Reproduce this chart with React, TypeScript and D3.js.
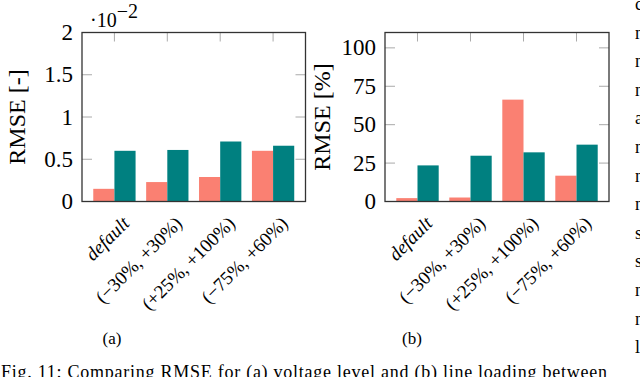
import React, { useRef, useEffect } from 'react';
import * as d3 from 'd3';

// scenario labels on the x axis
const categories = ['default', '(−30%, +30%)', '(+25%, +100%)', '(−75%, +60%)'];

// (a) voltage level RMSE, in units of 10^-2
const voltageSalmon = [0.15, 0.23, 0.29, 0.6];
const voltageTeal = [0.6, 0.61, 0.71, 0.66];
const voltageTicks = [0, 0.5, 1, 1.5, 2];
const voltageTickLabels = ['0', '0.5', '1', '1.5', '2'];

// (b) line loading RMSE in %
const loadingSalmon = [2.2, 2.6, 66.3, 16.8];
const loadingTeal = [23.5, 29.8, 32, 37];
const loadingTicks = [0, 25, 50, 75, 100];
const loadingTickLabels = ['0', '25', '50', '75', '100'];

// clipped text from the neighbouring column
const sideLetters = ['c', 'n', 'n', 'n', 'a', 'n', 'n', 'n', 's', 's', 'n', 'n', 'l'];

const FONT = '"Liberation Serif", "Times New Roman", serif';
const SALMON = '#fa8072';
const TEAL = '#008080';

type Panel = {
  left: number;
  right: number;
  yMax: number;
  salmon: number[];
  teal: number[];
  ticks: number[];
  tickLabels: string[];
  yLabel: string;
  yLabelX: number;
  sub: string;
  subX: number;
  exponent: boolean;
};

export default function App() {
  const ref = useRef<SVGSVGElement>(null);

  useEffect(() => {
    const svg = d3.select(ref.current);
    svg.selectAll('*').remove();

    const top = 32.5, bottom = 201.5;

    const panels: Panel[] = [
      { left: 82, right: 305.5, yMax: 2, salmon: voltageSalmon, teal: voltageTeal,
        ticks: voltageTicks, tickLabels: voltageTickLabels, yLabel: 'RMSE [-]', yLabelX: 17,
        sub: '(a)', subX: 112, exponent: true },
      { left: 385, right: 609, yMax: 110, salmon: loadingSalmon, teal: loadingTeal,
        ticks: loadingTicks, tickLabels: loadingTickLabels, yLabel: 'RMSE [%]', yLabelX: 322,
        sub: '(b)', subX: 412, exponent: false },
    ];

    panels.forEach(p => {
      const g = svg.append('g');
      const x = d3.scalePoint<string>()
        .domain(categories)
        .range([p.left, p.right])
        .padding(0.613);
      const y = d3.scaleLinear().domain([0, p.yMax]).range([bottom, top]);
      const bw = x.step() * 0.4;

      // bars
      g.selectAll('.s')
        .data(p.salmon)
        .enter()
        .append('rect')
        .attr('x', (d, i) => (x(categories[i]) as number) - bw)
        .attr('y', d => y(d))
        .attr('width', bw)
        .attr('height', d => bottom - y(d))
        .attr('fill', SALMON);

      g.selectAll('.t')
        .data(p.teal)
        .enter()
        .append('rect')
        .attr('x', (d, i) => x(categories[i]) as number)
        .attr('y', d => y(d))
        .attr('width', bw)
        .attr('height', d => bottom - y(d))
        .attr('fill', TEAL);

      // inner ticks
      p.ticks.forEach(t => {
        g.append('line').attr('x1', p.left).attr('x2', p.left + 10)
          .attr('y1', y(t)).attr('y2', y(t)).attr('stroke', '#aaa').attr('stroke-width', 1);
        g.append('line').attr('x1', p.right - 10).attr('x2', p.right)
          .attr('y1', y(t)).attr('y2', y(t)).attr('stroke', '#aaa').attr('stroke-width', 1);
      });
      categories.forEach(c => {
        g.append('line').attr('x1', x(c) as number).attr('x2', x(c) as number)
          .attr('y1', top).attr('y2', top + 9).attr('stroke', '#aaa').attr('stroke-width', 1);
      });

      // frame
      g.append('rect')
        .attr('x', p.left).attr('y', top)
        .attr('width', p.right - p.left).attr('height', bottom - top)
        .attr('fill', 'none').attr('stroke', '#333').attr('stroke-width', 1.3);

      // y tick labels
      p.ticks.forEach((t, i) => {
        g.append('text')
          .attr('x', p.left - 9)
          .attr('y', y(t) + 7.5)
          .attr('text-anchor', 'end')
          .style('font-family', FONT)
          .style('font-size', '23px')
          .text(p.tickLabels[i]);
      });

      // x tick labels, rotated
      categories.forEach((c, i) => {
        g.append('text')
          .attr('transform', `translate(${(x(c) as number) + 16},${bottom + 23}) rotate(-45)`)
          .attr('text-anchor', 'end')
          .style('font-family', FONT)
          .style('font-size', '19px')
          .style('font-style', i === 0 ? 'italic' : 'normal')
          .text(c);
      });

      // y axis label
      g.append('text')
        .attr('transform', `translate(${p.yLabelX + 8},${(top + bottom) / 2}) rotate(-90)`)
        .attr('text-anchor', 'middle')
        .style('font-family', FONT)
        .style('font-size', '24px')
        .text(p.yLabel);

      if (p.exponent) {
        const e = g.append('text')
          .attr('x', p.left + 8)
          .attr('y', 27)
          .style('font-family', FONT)
          .style('font-size', '20px');
        e.append('tspan').text('·10');
        e.append('tspan').attr('dy', -9).text('−2');
      }

      // sub caption
      svg.append('text')
        .attr('x', p.subX)
        .attr('y', 344)
        .attr('text-anchor', 'middle')
        .style('font-family', FONT)
        .style('font-size', '17px')
        .text(p.sub);
    });

    svg.append('text')
      .attr('x', 1)
      .attr('y', 378)
      .attr('textLength', 606)
      .style('font-family', FONT)
      .style('font-size', '18px')
      .text('Fig. 11: Comparing RMSE for (a) voltage level and (b) line loading between');

    sideLetters.forEach((l, i) => {
      svg.append('text')
        .attr('x', 635)
        .attr('y', 10 + i * 28.6)
        .style('font-family', FONT)
        .style('font-size', '18px')
        .text(l);
    });
  }, []);

  return (
    <svg
      ref={ref}
      width={640}
      height={377}
      style={{ position: 'fixed', left: 0, top: 0, background: '#fff' }}
    />
  );
}
